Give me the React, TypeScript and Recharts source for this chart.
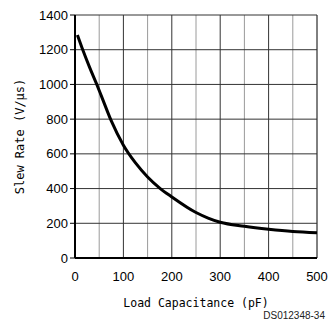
import { CartesianGrid, Label, Line, LineChart, XAxis, YAxis } from "recharts"

// values
const loadPf = [5, 16, 30, 45, 55, 75, 100, 125, 150, 175, 200, 250, 275, 300, 350, 400, 450, 500]
const slewRate = [1285, 1200, 1100, 1000, 930, 790, 650, 548, 467, 403, 352, 262, 230, 206, 183, 166, 153, 146]

const xTicks = [0, 100, 200, 300, 400, 500]
const xMinorTicks = [50, 150, 250, 350, 450]
const yTicks = [0, 200, 400, 600, 800, 1000, 1200, 1400]

const data = loadPf.map((x, i) => ({ x, y: slewRate[i] }))

const tickFont = { fontFamily: "Liberation Sans, Arial, sans-serif", fontSize: 13, fill: "#000" }
const labelFont = { fontFamily: "DejaVu Sans Mono, monospace", fill: "#000" }

const App = () => {
    return (
        <div style={{ position: "absolute", left: 0, top: 0, width: 328, height: 327, background: "#fff" }}>
            <LineChart width={328} height={327} data={data} margin={{ top: 15, right: 11, left: 0, bottom: 0 }}>
                <XAxis xAxisId="minor" dataKey="x" type="number" domain={[0, 500]} ticks={xMinorTicks} hide />
                <CartesianGrid xAxisId="minor" horizontal={false} stroke="#9a9a9a" strokeWidth={1} />
                <CartesianGrid stroke="#333" strokeWidth={1} />
                <XAxis
                    dataKey="x"
                    type="number"
                    domain={[0, 500]}
                    ticks={xTicks}
                    height={69}
                    tickLine={false}
                    tickSize={0}
                    tickMargin={14}
                    axisLine={{ stroke: "#000", strokeWidth: 2 }}
                    tick={tickFont}
                >
                    <Label value="Load Capacitance (pF)" position="insideBottom" offset={20} style={{ ...labelFont, fontSize: 11.5 }} />
                </XAxis>
                <YAxis
                    type="number"
                    domain={[0, 1400]}
                    ticks={yTicks}
                    width={75}
                    tickSize={5}
                    tickMargin={2}
                    tickLine={{ stroke: "#000" }}
                    axisLine={{ stroke: "#000", strokeWidth: 2 }}
                    tick={tickFont}
                >
                    <Label value="Slew Rate (V/µs)" angle={-90} position="insideLeft" offset={20} style={{ ...labelFont, fontSize: 12, textAnchor: "middle" }} />
                </YAxis>
                <Line type="monotone" dataKey="y" stroke="#000" strokeWidth={3} dot={false} isAnimationActive={false} />
            </LineChart>
            <div style={{ position: "absolute", right: 3, top: 310, fontFamily: "Liberation Sans, Arial, sans-serif", fontSize: 10, color: "#222" }}>
                DS012348-34
            </div>
        </div>
    )
}

export default App
